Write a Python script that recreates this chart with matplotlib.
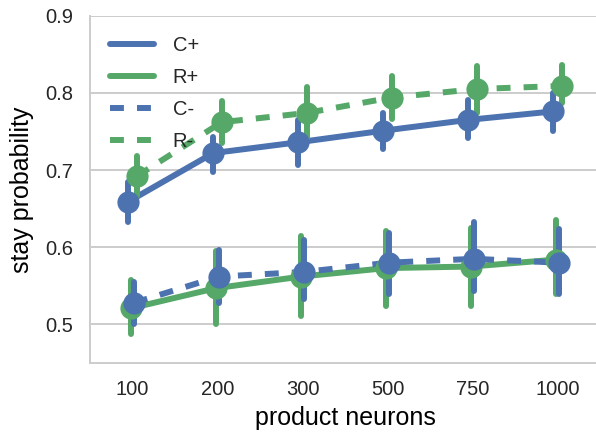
import numpy as np
import matplotlib
matplotlib.use('Agg')
import matplotlib.pyplot as plt

# data
neurons = ['100', '200', '300', '500', '750', '1000']
groups = ['C+', 'R+', 'C-', 'R-']
colors = ['#4C72B0', '#55A868', '#4C72B0', '#55A868']
dashed = [False, False, True, True]

means = {
    'C+': [0.659, 0.722, 0.736, 0.751, 0.765, 0.776],
    'R+': [0.521, 0.547, 0.562, 0.573, 0.575, 0.584],
    'C-': [0.528, 0.562, 0.568, 0.580, 0.585, 0.580],
    'R-': [0.692, 0.762, 0.774, 0.794, 0.805, 0.809],
}
ci_low = {
    'C+': [0.633, 0.698, 0.706, 0.727, 0.741, 0.750],
    'R+': [0.488, 0.500, 0.511, 0.524, 0.524, 0.540],
    'C-': [0.500, 0.528, 0.533, 0.540, 0.543, 0.539],
    'R-': [0.666, 0.735, 0.741, 0.766, 0.774, 0.787],
}
ci_high = {
    'C+': [0.685, 0.743, 0.765, 0.774, 0.791, 0.800],
    'R+': [0.558, 0.595, 0.614, 0.621, 0.625, 0.635],
    'C-': [0.555, 0.596, 0.610, 0.619, 0.633, 0.623],
    'R-': [0.718, 0.789, 0.807, 0.822, 0.835, 0.836],
}

plt.rcParams['font.family'] = ['Liberation Sans', 'DejaVu Sans']
plt.rcParams['text.color'] = '#262626'

fig = plt.figure(figsize=(5.96, 4.37), dpi=100)
ax = fig.add_axes([0.151, 0.1693, 0.8557, 0.7948])

lw = 4.3
x = np.arange(len(neurons))
offsets = np.linspace(-0.05, 0.05, len(groups))

for i, g in enumerate(groups):
    xs = x + offsets[i]
    c = colors[i]
    for xi, lo, hi in zip(xs, ci_low[g], ci_high[g]):
        ax.plot([xi, xi], [lo, hi], color=c, lw=lw, solid_capstyle='round', zorder=3)
    ls = (0, (2.33, 2.19)) if dashed[i] else '-'
    ax.plot(xs, means[g], color=c, lw=lw, linestyle=ls, solid_capstyle='round',
            zorder=3, label=g)
    ax.plot(xs, means[g], linestyle='none', marker='o', markersize=16,
            color=c, markeredgewidth=0, zorder=100 + i)

ax.set_xlim(-0.5, 5.5)
ax.set_ylim(0.45, 0.9)
ax.set_xticks(x)
ax.set_xticklabels(neurons)
ax.set_yticks([0.5, 0.6, 0.7, 0.8, 0.9])
ax.tick_params(length=0, labelsize=14.5, labelcolor='#262626')
ax.tick_params(axis='x', pad=12)
ax.tick_params(axis='y', pad=12)
ax.set_xlabel('product neurons', fontsize=18, labelpad=5)
ax.set_ylabel('stay probability', fontsize=18, labelpad=8)

ax.yaxis.grid(True, color='#cccccc', lw=1.4)
ax.xaxis.grid(False)
ax.set_axisbelow(True)
for s in ['top', 'right']:
    ax.spines[s].set_visible(False)
for s in ['left', 'bottom']:
    ax.spines[s].set_color('#cccccc')
    ax.spines[s].set_linewidth(1.4)

leg = ax.legend(loc='upper left', frameon=False, fontsize=14.5,
                handlelength=2.2, handletextpad=0.9, labelspacing=0.65,
                borderaxespad=0.6)

fig.savefig('out.png', dpi=100)
